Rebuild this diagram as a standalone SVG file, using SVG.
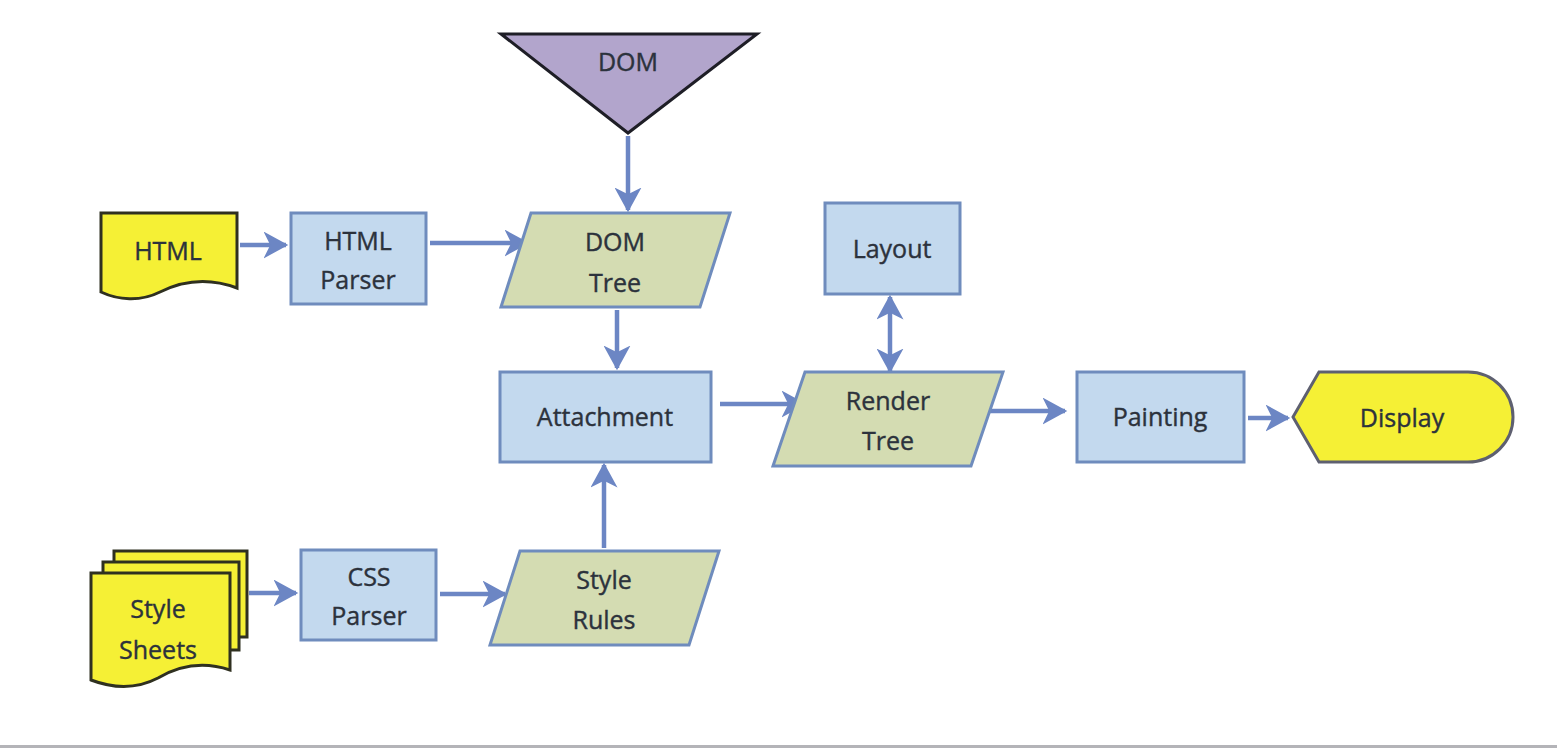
<svg xmlns="http://www.w3.org/2000/svg" width="1557" height="748" viewBox="0 0 1557 748">
<defs>
<style>
.t{font-family:"Open Sans","Liberation Sans",sans-serif;font-size:25px;fill:#2c323c;text-anchor:middle;dominant-baseline:central;stroke:#2c323c;stroke-width:0.4}
.blue{fill:#c3d9ee;stroke:#6f8cbd;stroke-width:3}
.green{fill:#d4dcb2;stroke:#6f8cbd;stroke-width:3}
.yellow{fill:#f5f035;stroke:#2f3020;stroke-width:3}
.purple{fill:#b2a5cc;stroke:#1e1e26;stroke-width:3}
.c{stroke:#6c86c4;stroke-width:4.5;fill:none}
</style>
<marker id="ah" viewBox="0 0 12 12" refX="10" refY="6" markerWidth="6" markerHeight="6" markerUnits="strokeWidth" orient="auto-start-reverse">
<path d="M0,0 L11,6 L0,12 L3,6 z" fill="#6c86c4"/>
</marker>
</defs>
<rect width="1557" height="748" fill="#ffffff"/>
<rect x="0" y="745" width="1557" height="3" fill="#b4b4b8"/>

<g id="connectors">
<line class="c" x1="240" y1="245" x2="286" y2="245" marker-end="url(#ah)"/>
<line class="c" x1="430" y1="243" x2="527" y2="243" marker-end="url(#ah)"/>
<line class="c" x1="628" y1="136" x2="628" y2="210" marker-end="url(#ah)"/>
<line class="c" x1="617" y1="310" x2="617" y2="368" marker-end="url(#ah)"/>
<line class="c" x1="604" y1="548" x2="604" y2="465" marker-end="url(#ah)"/>
<line class="c" x1="720" y1="404" x2="804" y2="404" marker-end="url(#ah)"/>
<line class="c" x1="890" y1="297" x2="890" y2="371" marker-start="url(#ah)" marker-end="url(#ah)"/>
<line class="c" x1="990" y1="411" x2="1065" y2="411" marker-end="url(#ah)"/>
<line class="c" x1="1248" y1="418" x2="1288" y2="418" marker-end="url(#ah)"/>
<line class="c" x1="249" y1="593" x2="296" y2="593" marker-end="url(#ah)"/>
<line class="c" x1="440" y1="594" x2="505" y2="594" marker-end="url(#ah)"/>
</g>

<g id="dom">
<polygon class="purple" points="501,34 757,34 628,133"/>
<text class="t" x="628" y="61">DOM</text>
</g>

<g id="html">
<path class="yellow" d="M101,213 L237,213 L237,288 C205,276 180,282 160,292 C140,302 118,300 101,292 Z"/>
<text class="t" x="168" y="250">HTML</text>
</g>

<g id="html-parser">
<rect class="blue" x="291" y="213" width="135" height="91"/>
<text class="t" x="358" y="240">HTML</text>
<text class="t" x="358" y="279">Parser</text>
</g>

<g id="dom-tree">
<polygon class="green" points="531,213 730,213 700,307 501,307"/>
<text class="t" x="615" y="241">DOM</text>
<text class="t" x="615" y="282">Tree</text>
</g>

<g id="layout">
<rect class="blue" x="825" y="203" width="135" height="91"/>
<text class="t" x="892" y="248">Layout</text>
</g>

<g id="attachment">
<rect class="blue" x="500" y="372" width="211" height="90"/>
<text class="t" x="605" y="416">Attachment</text>
</g>

<g id="render-tree">
<polygon class="green" points="805,372 1003,372 971,466 773,466"/>
<text class="t" x="888" y="400">Render</text>
<text class="t" x="888" y="440">Tree</text>
</g>

<g id="painting">
<rect class="blue" x="1077" y="372" width="167" height="90"/>
<text class="t" x="1160" y="416">Painting</text>
</g>

<g id="display">
<path class="yellow" d="M1319,372 L1468,372 A45,45 0 0 1 1468,462 L1319,462 L1293,417 Z" style="stroke:#5e6070"/>
<text class="t" x="1402" y="417">Display</text>
</g>

<g id="style-sheets">
<path class="yellow" d="M114,551 L247,551 L247,637 L114,637 Z"/>
<path class="yellow" d="M103,562 L239,562 L239,650 L103,650 Z"/>
<path class="yellow" d="M91,573 L230,573 L230,670 C200,660 175,668 158,678 C135,690 112,688 91,680 Z"/>
<text class="t" x="158" y="608">Style</text>
<text class="t" x="158" y="649">Sheets</text>
</g>

<g id="css-parser">
<rect class="blue" x="301" y="550" width="135" height="90"/>
<text class="t" x="369" y="576">CSS</text>
<text class="t" x="369" y="615">Parser</text>
</g>

<g id="style-rules">
<polygon class="green" points="520,551 719,551 689,645 490,645"/>
<text class="t" x="604" y="579">Style</text>
<text class="t" x="604" y="619">Rules</text>
</g>
</svg>
